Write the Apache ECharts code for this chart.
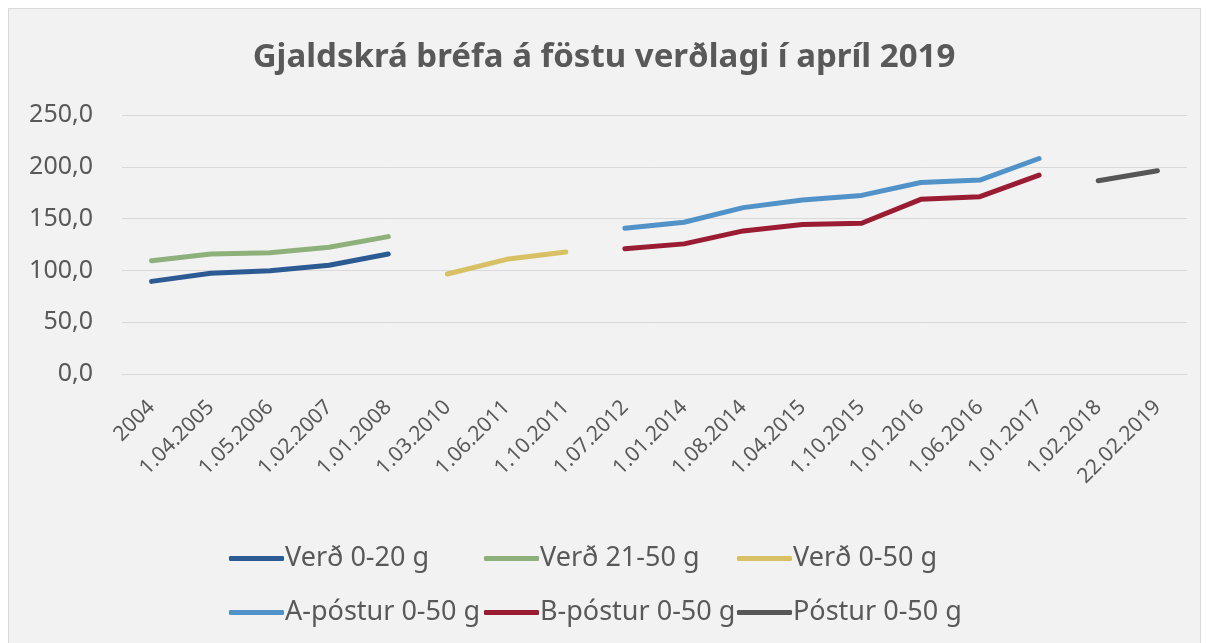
<!DOCTYPE html>
<html>
<head>
<meta charset="utf-8">
<script src="https://cdn.jsdelivr.net/npm/echarts@6/dist/echarts.min.js"></script>
<style>
  html, body { margin: 0; padding: 0; background: #fff; }
  #box { position: absolute; left: 8px; top: 8px; width: 1191px; height: 645px;
         background: #f2f2f2; border: 1px solid #d9d9d9; }
  #chart { position: absolute; left: 0; top: 0; width: 1208px; height: 643px; }
</style>
</head>
<body>
<div id="box"></div>
<div id="chart"></div>
<script>
// gögn lesin af myndinni
var dates = ['2004', '1.04.2005', '1.05.2006', '1.02.2007', '1.01.2008', '1.03.2010',
    '1.06.2011', '1.10.2011', '1.07.2012', '1.01.2014', '1.08.2014', '1.04.2015',
    '1.10.2015', '1.01.2016', '1.06.2016', '1.01.2017', '1.02.2018', '22.02.2019'];

var verd020   = [89.4, 97.2, 99.7, 104.9, 115.8, null, null, null, null, null, null, null, null, null, null, null, null, null];
var verd2150  = [109.4, 115.8, 117.1, 122.3, 132.6, null, null, null, null, null, null, null, null, null, null, null, null, null];
var verd050   = [null, null, null, null, null, 96.5, 110.7, 117.8, null, null, null, null, null, null, null, null, null, null];
var aPostur   = [null, null, null, null, null, null, null, null, 140.7, 146.5, 160.6, 167.9, 172.4, 184.9, 187.2, 208.0, null, null];
var bPostur   = [null, null, null, null, null, null, null, null, 120.8, 125.6, 138.1, 144.2, 145.5, 168.6, 171.2, 192.0, null, null];
var postur050 = [null, null, null, null, null, null, null, null, null, null, null, null, null, null, null, null, 186.5, 196.2];

var names  = ['Verð 0-20 g', 'Verð 21-50 g', 'Verð 0-50 g', 'A-póstur 0-50 g', 'B-póstur 0-50 g', 'Póstur 0-50 g'];
var colors = ['#2c5b93', '#8eb07b', '#d8c164', '#5193c8', '#9a1c32', '#575757'];
var values = [verd020, verd2150, verd050, aPostur, bPostur, postur050];

var font = 'Noto Sans';
var grey = '#595959';

var chart = echarts.init(document.getElementById('chart'));

var series = names.map(function (n, i) {
    return {
        name: n,
        type: 'line',
        data: values[i],
        showSymbol: false,
        connectNulls: false,
        lineStyle: { width: 5, color: colors[i], cap: 'round', join: 'round' },
        itemStyle: { color: colors[i] }
    };
});

// sex sérstakar skýringar svo dálkarnir raðist eins og í Excel
var legendLeft = [224, 479, 732];
var legendTop = [540, 594];
var legends = names.map(function (n, i) {
    return {
        data: [n],
        left: legendLeft[i % 3],
        top: legendTop[Math.floor(i / 3)],
        icon: 'roundRect',
        itemWidth: 55,
        itemHeight: 5,
        itemGap: 0,
        selectedMode: false,
        textStyle: { color: grey, fontSize: 27, fontFamily: font, padding: [0, 0, 0, -4] }
    };
});

var option = {
    animation: false,
    title: {
        text: 'Gjaldskrá bréfa á föstu verðlagi í apríl 2019',
        left: 'center',
        top: 36,
        textStyle: { color: grey, fontSize: 33, fontWeight: 'bold', fontFamily: font }
    },
    legend: legends,
    grid: { left: 122, right: 21, top: 115, bottom: 269, containLabel: false },
    xAxis: {
        type: 'category',
        data: dates,
        boundaryGap: true,
        axisLine: { lineStyle: { color: '#d9d9d9', width: 1 } },
        axisTick: { show: false },
        axisLabel: {
            rotate: 45,
            interval: 0,
            margin: 30,
            color: grey,
            fontSize: 21,
            fontFamily: font
        }
    },
    yAxis: {
        type: 'value',
        min: 0,
        max: 250,
        interval: 50,
        axisLine: { show: false },
        axisTick: { show: false },
        splitLine: { lineStyle: { color: '#d9d9d9', width: 1 } },
        axisLabel: {
            margin: 29,
            color: grey,
            fontSize: 25,
            fontFamily: font,
            formatter: function (v) { return v.toFixed(1).replace('.', ','); }
        }
    },
    series: series
};

chart.setOption(option);
</script>
</body>
</html>
